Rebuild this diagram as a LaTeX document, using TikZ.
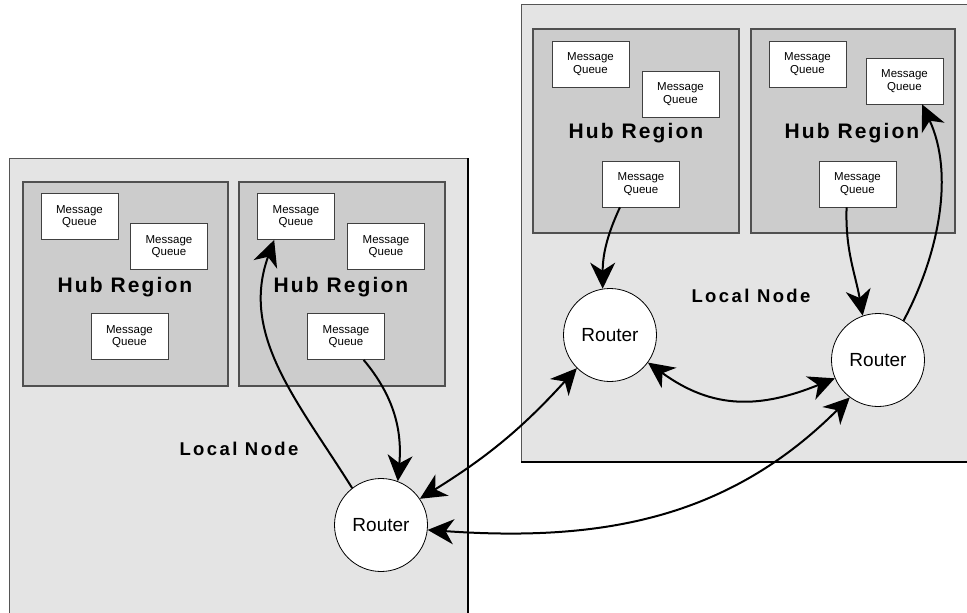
\documentclass[tikz,border=0pt]{standalone}
\usepackage{fontspec}
\setmainfont{Liberation Sans}
\newfontfamily\spacedfont[LetterSpace=10]{Liberation Sans}
\newfontfamily\widefont[LetterSpace=13]{Liberation Sans}
\usetikzlibrary{arrows.meta}
\definecolor{nodefill}{HTML}{E4E4E4}
\definecolor{hubfill}{HTML}{CCCCCC}
\definecolor{hubline}{HTML}{505050}
\definecolor{edgegray}{HTML}{555555}
\begin{document}
\begin{tikzpicture}[x=1pt,y=1pt,
  >={Stealth[length=26pt,width=25pt,inset=8pt]},
  hub/.style={fill=hubfill, draw=hubline, line width=1.2pt},
  mq/.style={draw=black!75, fill=white, line width=0.8pt, minimum width=77pt, minimum height=46pt, inner sep=0pt, align=center, font={\fontsize{11.5}{12.7}\selectfont}},
  router/.style={circle, draw=black, fill=white, line width=0.8pt, minimum size=93pt, inner sep=0pt, font={\fontsize{19}{22}\selectfont}},
  hubtext/.style={anchor=base, font={\spacedfont\fontsize{21}{24}\bfseries}},
  localtext/.style={anchor=base, font={\widefont\fontsize{18.5}{21}\bfseries}},
  link/.style={line width=2pt, ->},
  dlink/.style={line width=2pt, <->},
]
\useasboundingbox (0,0) rectangle (967,-613);
\clip (0,0) rectangle (967,-613);

% outer local nodes
\fill[nodefill] (9,-158) rectangle (468,-630);
\draw[edgegray, line width=1pt] (9,-630) -- (9,-158) -- (468,-158);
\draw[black, line width=1.6pt] (468,-158) -- (468,-630);

\fill[nodefill] (521,-4) rectangle (980,-462);
\draw[edgegray, line width=1pt] (521,-462) -- (521,-4) -- (980,-4);
\draw[black, line width=1.4pt] (521,-462) -- (980,-462);

% hub regions
\draw[hub] (23,-182) rectangle (228,-386);
\draw[hub] (239,-182) rectangle (445,-386);
\draw[hub] (533,-29) rectangle (739,-233);
\draw[hub] (751,-29) rectangle (955,-233);

% message queues
\node[mq] (a1) at (79.5,-216.5) {Message\\Queue};
\node[mq] (a2) at (169,-246.5) {Message\\Queue};
\node[mq] (a3) at (129.5,-336.5) {Message\\Queue};
\node[mq] (b1) at (296,-216.5) {Message\\Queue};
\node[mq] (b2) at (386,-246.5) {Message\\Queue};
\node[mq] (b3) at (346,-336.5) {Message\\Queue};
\node[mq] (c1) at (590.5,-64) {Message\\Queue};
\node[mq] (c2) at (680.5,-94) {Message\\Queue};
\node[mq] (c3) at (641,-184) {Message\\Queue};
\node[mq] (d1) at (807.5,-64) {Message\\Queue};
\node[mq] (d2) at (904.5,-81) {Message\\Queue};
\node[mq] (d3) at (857.5,-184) {Message\\Queue};

% labels
\node[hubtext] (h1) at (125,-292) {Hub Region};
\node[hubtext] (h2) at (341,-292) {Hub Region};
\node[hubtext] (h3) at (636,-138) {Hub Region};
\node[hubtext] (h4) at (852,-138) {Hub Region};
\node[localtext] (l1) at (239,-455) {Local Node};
\node[localtext] (l2) at (751,-302) {Local Node};

% routers
\node[router] (rl) at (381,-525) {Router};
\node[router] (rr1) at (610,-335) {Router};
\node[router] (rr2) at (878,-360) {Router};

% connectors
\draw[link] (b3.-53) to[out=-50,in=85] (rl.69);
\draw[link] (rl.128) to[out=122,in=-110] (b1.-133);
\draw[dlink] (rl.34) to[bend right=8] (rr1.225);
\draw[dlink] (rl.-6) to[out=-4,in=-135] (rr2.-127);
\draw[dlink] (rr1.-36) to[out=-36,in=-158,looseness=1.1] (rr2.203);
\draw[link] (c3.-132) to[out=-115,in=90] (rr1.99);
\draw[link] (d3.-115) to[out=-92,in=100] (rr2.109);
\draw[link] (rr2.57) to[out=62,in=-65,looseness=0.9] (d2.-53);
\end{tikzpicture}
\end{document}
